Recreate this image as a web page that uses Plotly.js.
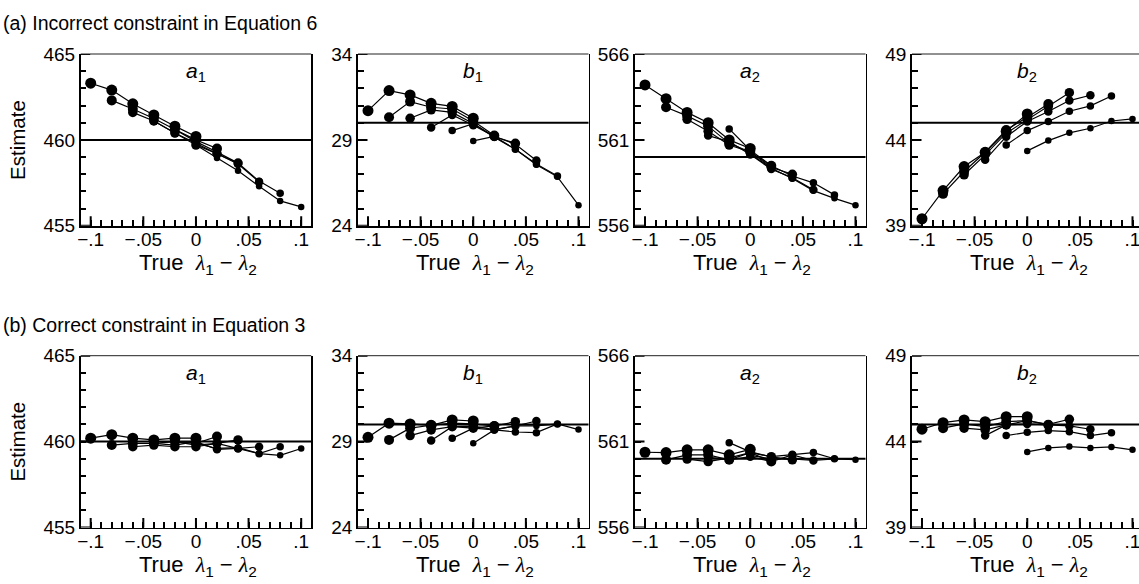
<!DOCTYPE html>
<html><head><meta charset="utf-8">
<script src="https://cdn.plot.ly/plotly-3.0.1.min.js"></script>
<style>html,body{margin:0;padding:0;overflow:hidden;background:#fff;width:1139px;height:584px}</style>
</head><body><div id="chart" style="width:1145px;height:584px"></div>
<script>
// x positions (True lambda1 - lambda2) of the six series
const xS1 = [-0.1, -0.08, -0.06, -0.04, -0.02, 0];
const xS2 = [-0.08, -0.06, -0.04, -0.02, 0, 0.02];
const xS3 = [-0.06, -0.04, -0.02, 0, 0.02, 0.04];
const xS4 = [-0.04, -0.02, 0, 0.02, 0.04, 0.06];
const xS5 = [-0.02, 0, 0.02, 0.04, 0.06, 0.08];
const xS6 = [0, 0.02, 0.04, 0.06, 0.08, 0.1];

// (a) Incorrect constraint in Equation 6
const a1_incorrect = [
  [463.3, 462.9, 462.1, 461.45, 460.8, 460.2],
  [462.3, 461.8, 461.25, 460.6, 460.0, 459.5],
  [461.6, 461.1, 460.4, 459.7, 459.2, 458.65],
  [461.1, 460.4, 459.8, 459.2, 458.6, 457.55],
  [460.6, 459.9, 459.3, 458.65, 457.6, 456.9],
  [459.7, 458.95, 458.2, 457.3, 456.45, 456.1]
];
const b1_incorrect = [
  [30.7, 31.87, 31.62, 31.13, 30.95, 30.26],
  [30.32, 31.23, 30.9, 30.8, 30.1, 29.25],
  [30.26, 30.75, 30.6, 29.95, 29.2, 28.8],
  [29.72, 30.45, 29.85, 29.2, 28.75, 27.8],
  [29.54, 29.95, 29.15, 28.45, 27.6, 26.9],
  [28.94, 29.2, 28.45, 27.55, 26.85, 25.2]
];
const a2_incorrect = [
  [564.2, 563.4, 562.6, 562.0, 561.0, 560.5],
  [562.9, 562.4, 561.8, 560.8, 560.3, 559.5],
  [562.2, 561.5, 560.7, 560.3, 559.4, 559.0],
  [561.25, 560.9, 560.15, 559.3, 558.8, 558.1],
  [561.64, 560.4, 559.5, 558.9, 558.5, 557.8],
  [560.2, 559.35, 558.75, 558.05, 557.6, 557.2]
];
const b2_incorrect = [
  [39.41, 41.05, 42.45, 43.28, 44.5, 45.51],
  [40.86, 42.16, 43.28, 44.58, 45.32, 46.09],
  [41.97, 43.13, 44.39, 45.16, 45.94, 46.75],
  [42.84, 44.19, 45.07, 45.65, 46.29, 46.6],
  [43.71, 44.54, 45.07, 45.67, 45.98, 46.56],
  [43.36, 43.96, 44.41, 44.68, 45.1, 45.22]
];

// (b) Correct constraint in Equation 3
const a1_correct = [
  [460.2, 460.4, 460.2, 460.1, 460.2, 460.2],
  [459.8, 459.9, 459.9, 460.0, 459.9, 460.3],
  [459.7, 459.8, 459.7, 459.7, 459.9, 460.1],
  [459.9, 459.8, 460.0, 459.55, 459.6, 459.7],
  [460.0, 459.8, 459.9, 459.6, 459.3, 459.7],
  [459.9, 459.6, 459.65, 459.3, 459.2, 459.6]
];
const b1_correct = [
  [29.25, 30.07, 30.03, 29.95, 30.26, 30.2],
  [29.1, 29.78, 29.95, 30.07, 30.03, 29.91],
  [29.35, 29.68, 29.87, 29.78, 29.91, 30.16],
  [29.06, 29.87, 29.9, 29.7, 29.91, 30.2],
  [29.19, 29.78, 29.68, 29.56, 29.52, 30.03],
  [28.9, 29.68, 29.91, 29.91, 30.03, 29.7]
];
const a2_correct = [
  [560.38, 560.36, 560.52, 560.52, 560.23, 560.55],
  [559.94, 560.23, 560.23, 559.94, 560.36, 559.84],
  [559.98, 559.84, 560.05, 560.36, 560.12, 559.94],
  [560.1, 559.94, 560.12, 559.84, 560.23, 559.9],
  [560.94, 560.4, 560.12, 560.23, 560.36, 560.0],
  [560.2, 560.0, 560.0, 559.9, 560.0, 559.95]
];
const b2_correct = [
  [44.72, 45.1, 45.26, 45.16, 45.45, 45.45],
  [44.78, 45.03, 44.87, 45.16, 45.22, 44.97],
  [44.78, 44.68, 44.97, 45.22, 45.0, 45.3],
  [44.35, 44.97, 45.03, 44.97, 44.91, 44.72],
  [44.35, 44.54, 44.64, 44.58, 44.35, 44.52],
  [43.4, 43.63, 43.71, 43.63, 43.69, 43.52]
];

const panelNames = [['a', '1'], ['b', '1'], ['a', '2'], ['b', '2']];
const trueValues = [460, 30, 560, 45];
const yLow = [455, 24, 556, 39];
const yHigh = [465, 34, 566, 49];
const xTickVals = [-0.1, -0.05, 0, 0.05, 0.1];
const xTickText = ['\u2212.1', '\u2212.05', '0', '.05', '.1'];
const rowTitles = ['(a) Incorrect constraint in Equation 6', '(b) Correct constraint in Equation 3'];
const yTitle = 'Estimate';

const seriesX = [xS1, xS2, xS3, xS4, xS5, xS6];
const rows = [
  [a1_incorrect, b1_incorrect, a2_incorrect, b2_incorrect],
  [a1_correct, b1_correct, a2_correct, b2_correct]
];

// ---- layout geometry (pixels) ----
const W = 1145, H = 584;
const colLeft = [80.7, 358, 635, 912];
const colWidth = 230.5;
const rowTop = [54, 355.7];
const rowHeight = 171.8;
const X_RANGE = [-0.1095, 0.1095];
const markerSizes = [11, 10, 9.5, 8.5, 7.5, 6.5];
const FONT = 'Liberation Sans, Arial, Helvetica, sans-serif';
const MAJOR = 9.5, MINOR = 5.5, TICKW = 2;

// minor tick positions (every 0.01 on x)
const xMinor = [];
for (let i = -10; i <= 10; i++) xMinor.push(i / 100);
const xMinorText = xMinor.map(v => {
  const j = xTickVals.findIndex(t => Math.abs(t - v) < 1e-9);
  return j >= 0 ? xTickText[j] : '';
});

const traces = [];
const layout = {
  width: W, height: H,
  margin: {l: 0, r: 0, t: 0, b: 0},
  paper_bgcolor: '#fff', plot_bgcolor: 'rgba(0,0,0,0)',
  showlegend: false, hovermode: false,
  font: {family: FONT, color: '#000', size: 19},
  annotations: [], shapes: []
};

const lam = '<span style="font-family:Liberation Serif"><i>\u03bb</i></span>';
const xTitleText = 'True  ' + lam + '<sub>1</sub> \u2212 ' + lam + '<sub>2</sub>';

for (let r = 0; r < 2; r++) {
  for (let c = 0; c < 4; c++) {
    const idx = r * 4 + c + 1;
    const xa = idx === 1 ? 'xaxis' : 'xaxis' + idx;
    const ya = idx === 1 ? 'yaxis' : 'yaxis' + idx;
    const xr = idx === 1 ? 'x' : 'x' + idx;
    const yr = idx === 1 ? 'y' : 'y' + idx;
    const x0 = colLeft[c] / W, x1 = (colLeft[c] + colWidth) / W;
    const y1 = 1 - rowTop[r] / H, y0 = 1 - (rowTop[r] + rowHeight) / H;
    const lo = yLow[c], hi = yHigh[c];
    const yMinor = [];
    for (let v = lo; v <= hi; v++) yMinor.push(v);
    const yMajor = [lo, (lo + hi) / 2, hi];

    layout[xa] = {
      domain: [x0, x1], anchor: yr, range: X_RANGE,
      showgrid: false, zeroline: false, showline: true, linewidth: 1.8, linecolor: '#000',
      mirror: false, ticks: 'inside', ticklen: MINOR, tickwidth: TICKW, tickcolor: '#000',
      tickangle: 0, tickmode: 'array', tickvals: xMinor, ticktext: xMinorText,
      ticklabelstandoff: -4, layer: 'above traces',
      tickfont: {size: 19, family: FONT}, fixedrange: true
    };
    layout[ya] = {
      domain: [y0, y1], anchor: xr, range: [lo, hi],
      showgrid: false, zeroline: false, showline: true, linewidth: 1.8, linecolor: '#000',
      mirror: true, ticks: 'inside', ticklen: MINOR, tickwidth: TICKW, tickcolor: '#000',
      tickmode: 'array', tickvals: yMinor, ticktext: yMinor.map(v => yMajor.includes(v) ? String(v) : ''),
      layer: 'above traces',
      tickfont: {size: 19, family: FONT}, fixedrange: true
    };
    // longer major ticks
    xTickVals.forEach(v => layout.shapes.push({type: 'line', xref: xr, yref: yr + ' domain',
      x0: v, x1: v, y0: 0, y1: MAJOR / rowHeight, layer: 'above', line: {color: '#000', width: TICKW}}));
    yMajor.forEach(v => layout.shapes.push({type: 'line', xref: xr + ' domain', yref: yr,
      x0: 0, x1: MAJOR / colWidth, y0: v, y1: v, layer: 'above', line: {color: '#000', width: TICKW}}));
    // thin top border
    layout.shapes.push({type: 'line', xref: xr + ' domain', yref: yr + ' domain',
      x0: 0, x1: 1, y0: 1, y1: 1, line: {color: '#222', width: 1}});
    // true value line
    layout.shapes.push({type: 'line', xref: xr + ' domain', yref: yr,
      x0: 0, x1: 1, y0: trueValues[c], y1: trueValues[c], line: {color: '#000', width: 2}});
    // series
    const panel = rows[r][c];
    for (let s = 0; s < 6; s++) {
      traces.push({
        type: 'scatter', mode: 'lines+markers', xaxis: xr, yaxis: yr,
        x: seriesX[s], y: panel[s],
        line: {color: '#000', width: 1.2},
        marker: {color: '#000', size: markerSizes[s], line: {width: 0}},
        cliponaxis: false
      });
    }
    // panel label
    layout.annotations.push({
      xref: xr + ' domain', yref: yr + ' domain', x: 0.5, y: 1, yshift: -3,
      xanchor: 'center', yanchor: 'top', showarrow: false,
      text: '<i>' + panelNames[c][0] + '</i><sub>' + panelNames[c][1] + '</sub>',
      font: {size: 21, family: FONT}
    });
    // x-axis title
    layout.annotations.push({
      xref: 'paper', yref: 'paper', x: (colLeft[c] + colWidth / 2 + 2) / W,
      y: 1 - (rowTop[r] + rowHeight + 38) / H,
      xanchor: 'center', yanchor: 'middle', showarrow: false,
      text: xTitleText, font: {size: 22, family: FONT}
    });
  }
  // row title
  layout.annotations.push({
    xref: 'paper', yref: 'paper', x: 1 / W, y: 1 - (rowTop[r] - 31) / H,
    xanchor: 'left', yanchor: 'middle', showarrow: false,
    text: rowTitles[r], font: {size: 19.5, family: FONT}
  });
  // y title
  layout.annotations.push({
    xref: 'paper', yref: 'paper', x: 18 / W, y: 1 - (rowTop[r] + rowHeight / 2) / H,
    xanchor: 'center', yanchor: 'middle', showarrow: false, textangle: -90,
    text: yTitle, font: {size: 20.5, family: FONT}
  });
}

Plotly.newPlot('chart', traces, layout, {staticPlot: true, displayModeBar: false});
</script>
</body></html>
